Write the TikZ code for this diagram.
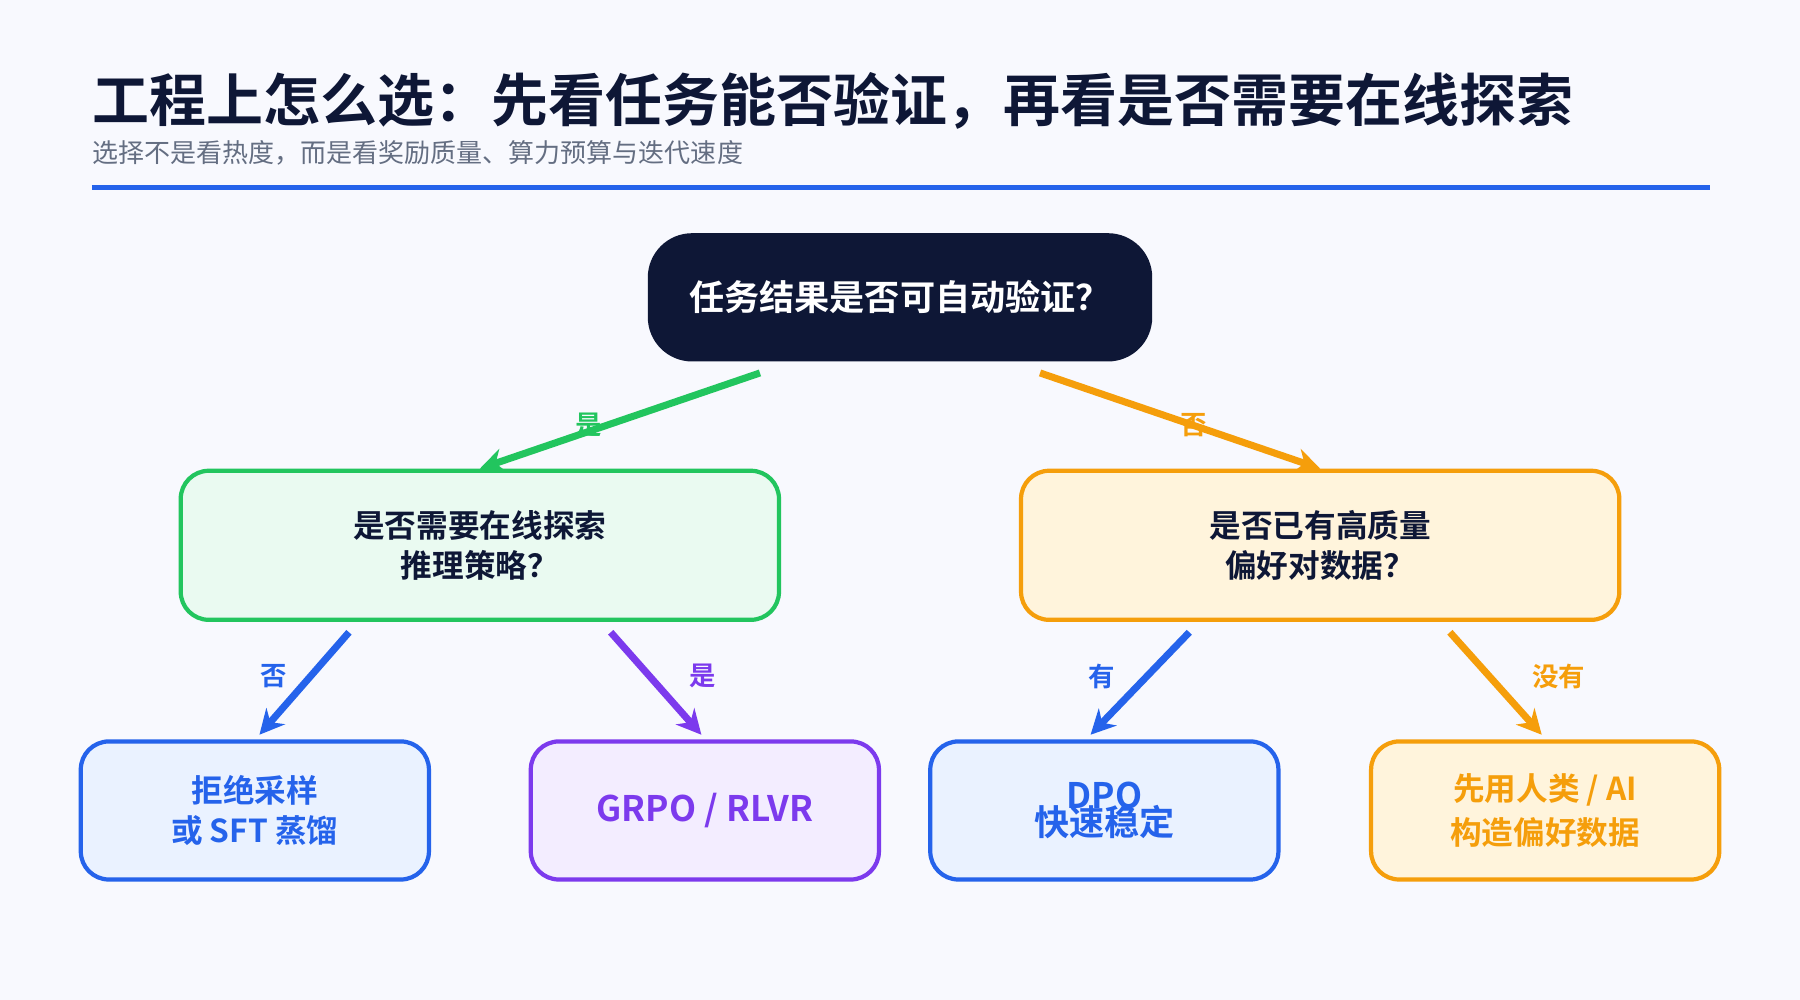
\documentclass[tikz,border=0pt]{standalone}
\usepackage{fontspec}
\setmainfont{Noto Sans CJK SC}
\newfontfamily\cjkbold{Noto Sans CJK SC Bold}
\usetikzlibrary{positioning,calc,arrows.meta}
\definecolor{bgpage}{RGB}{248,249,254}
\definecolor{navy}{RGB}{14,23,54}
\definecolor{lineblue}{RGB}{37,99,235}
\definecolor{boxgreen}{RGB}{234,250,241}
\definecolor{edgegreen}{RGB}{34,197,94}
\definecolor{boxorange}{RGB}{255,244,220}
\definecolor{edgeorange}{RGB}{245,158,11}
\definecolor{boxblue}{RGB}{234,242,255}
\definecolor{boxpurple}{RGB}{243,237,255}
\definecolor{edgepurple}{RGB}{124,58,237}
\definecolor{subgray}{RGB}{100,110,130}

\begin{document}
\begin{tikzpicture}[
    x=0.01148cm, y=-0.01148cm,
    box/.style={rectangle, draw, line width=1.2pt, rounded corners=8pt, align=center, font=\cjkbold\fontsize{9}{11}\selectfont},
    leaf/.style={box, minimum width=3.48cm, minimum height=1.38cm},
    arrow/.style={-{Stealth[length=7pt,width=7pt]}, line width=2pt},
    lab/.style={font=\cjkbold\fontsize{7.5}{9}\selectfont}
]
    \fill[bgpage] (0,0) rectangle (1568,871);
    \useasboundingbox (0,0) rectangle (1568,871);

    \node[anchor=west, text=navy, font=\cjkbold\fontsize{16.2}{19}\selectfont, inner sep=0pt] (title) at (80,88) {工程上怎么选：先看任务能否验证，再看是否需要在线探索};
    \node[anchor=west, text=subgray, font=\fontsize{7.4}{9}\selectfont, inner sep=0pt] (sub) at (80,133) {选择不是看热度，而是看奖励质量、算力预算与迭代速度};
    \draw[lineblue, line width=1.4pt] (80,163) -- (1490,163);

    \node[box, draw=navy, fill=navy, text=white, minimum width=5cm, minimum height=1.24cm, rounded corners=12pt, font=\cjkbold\fontsize{10}{12}\selectfont] (root) at (784,259) {任务结果是否可自动验证？};
    \node[box, draw=edgegreen, fill=boxgreen, text=navy, minimum width=5.98cm, minimum height=1.49cm] (online) at (418,475) {\raisebox{-4pt}{\shortstack{是否需要在线探索\\推理策略？}}};
    \node[box, draw=edgeorange, fill=boxorange, text=navy, minimum width=5.98cm, minimum height=1.49cm] (pref) at (1150,475) {\raisebox{-4pt}{\shortstack{是否已有高质量\\偏好对数据？}}};

    \node[leaf, draw=lineblue, fill=boxblue, text=lineblue] (rs) at (222,706) {\raisebox{-3pt}{\shortstack{拒绝采样\\或 SFT 蒸馏}}};
    \node[leaf, draw=edgepurple, fill=boxpurple, text=edgepurple, font=\cjkbold\fontsize{10}{12}\selectfont] (grpo) at (614,706) {\raisebox{-3pt}{GRPO / RLVR}};
    \node[leaf, draw=lineblue, fill=boxblue, text=lineblue, font=\cjkbold\fontsize{10}{9}\selectfont] (dpo) at (962,706) {\raisebox{-3pt}{\shortstack{DPO\\[-4pt]快速稳定}}};
    \node[leaf, draw=edgeorange, fill=boxorange, text=edgeorange] (human) at (1346,706) {\raisebox{-3pt}{\shortstack{先用人类 / AI\\构造偏好数据}}};

    \draw[arrow, edgegreen] ($(root.south)+(-122,10)$) -- (online.north);
    \draw[arrow, edgeorange] ($(root.south)+(122,10)$) -- (pref.north);
    \draw[arrow, lineblue] ($(online.south)+(-114,9)$) -- ($(rs.north)+(4,-4)$);
    \draw[arrow, edgepurple] ($(online.south)+(114,9)$) -- ($(grpo.north)+(-3,-4)$);
    \draw[arrow, lineblue] ($(pref.south)+(-114,9)$) -- ($(dpo.north)+(-12,-4)$);
    \draw[arrow, edgeorange] ($(pref.south)+(113,9)$) -- ($(human.north)+(-3,-4)$);

    \node[lab, text=edgegreen] (yes1) at (513,370) {是};
    \node[lab, text=edgeorange] (no1) at (1040,370) {否};
    \node[lab, text=lineblue] (no2) at (238,589) {否};
    \node[lab, text=edgepurple] (yes2) at (612,589) {是};
    \node[lab, text=lineblue] (have) at (960,589) {有};
    \node[lab, text=edgeorange] (none) at (1358,589) {没有};
\end{tikzpicture}
\end{document}
